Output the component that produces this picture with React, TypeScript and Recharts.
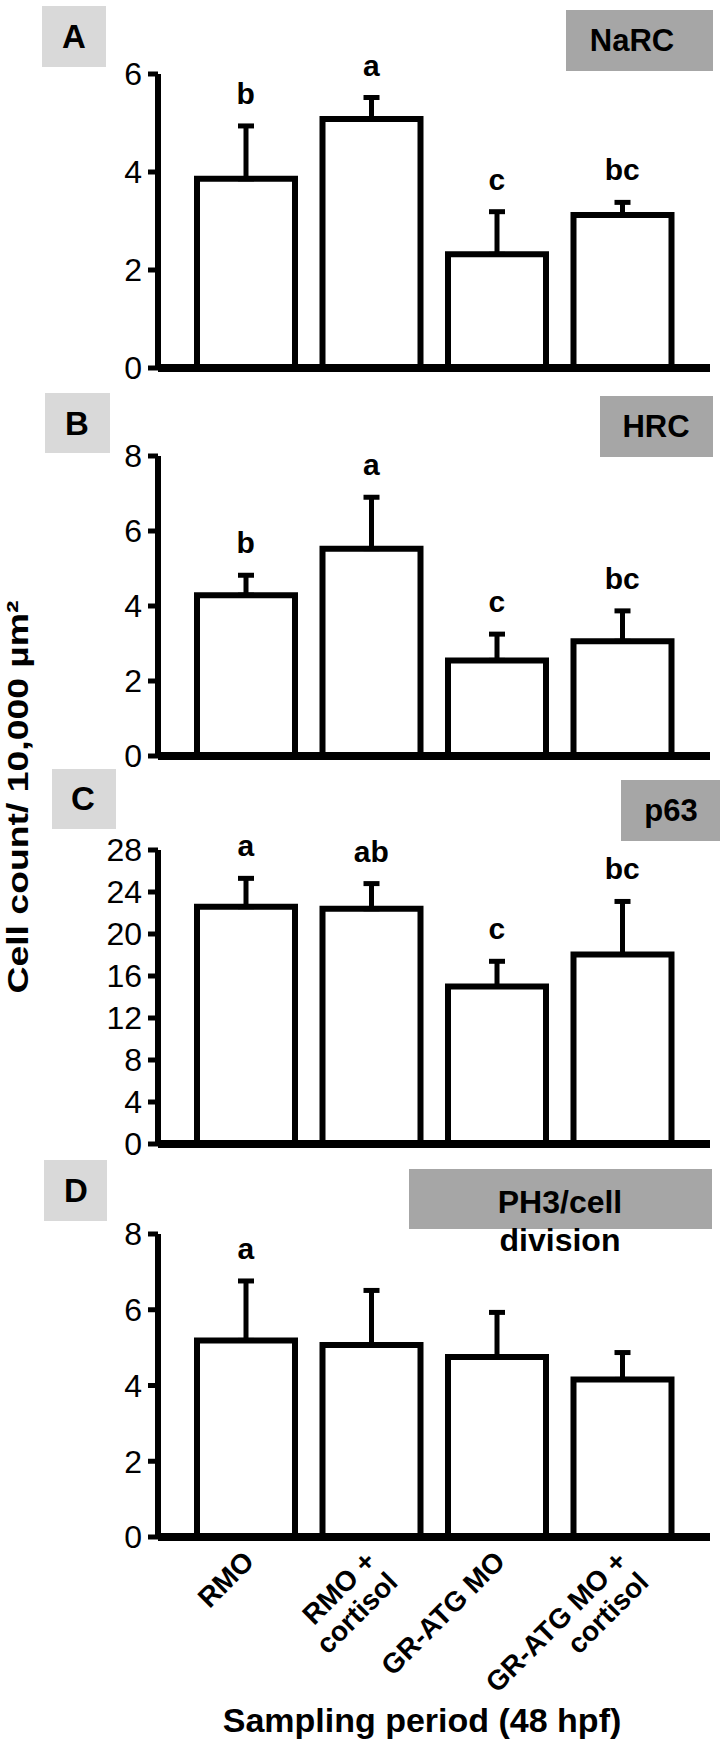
import React from 'react';
import { ComposedChart, Bar, Line, XAxis, YAxis, ErrorBar, LabelList } from 'recharts';

const FONT = '"Liberation Sans", Arial, Helvetica, sans-serif';

const groups = ['RMO', 'RMO + cortisol', 'GR-ATG MO', 'GR-ATG MO + cortisol'];
const groupLines = [['RMO'], ['RMO +', 'cortisol'], ['GR-ATG MO'], ['GR-ATG MO +', 'cortisol']];

const narcMean = [3.86, 5.08, 2.32, 3.12];
const narcSem = [1.08, 0.44, 0.87, 0.26];
const narcLetters = ['b', 'a', 'c', 'bc'];
const narcTicks = [0, 2, 4, 6];

const hrcMean = [4.29, 5.53, 2.55, 3.06];
const hrcSem = [0.53, 1.37, 0.7, 0.81];
const hrcLetters = ['b', 'a', 'c', 'bc'];
const hrcTicks = [0, 2, 4, 6, 8];

const p63Mean = [22.6, 22.4, 15.0, 18.05];
const p63Sem = [2.7, 2.4, 2.4, 5.05];
const p63Letters = ['a', 'ab', 'c', 'bc'];
const p63Ticks = [0, 4, 8, 12, 16, 20, 24, 28];

const ph3Mean = [5.19, 5.07, 4.75, 4.16];
const ph3Sem = [1.57, 1.44, 1.18, 0.71];
const ph3Letters = ['a', '', '', ''];
const ph3Ticks = [0, 2, 4, 6, 8];

function buildRows(mean: number[], sem: number[], letters: string[]) {
  return groups.map((g, i) => ({
    group: g,
    mean: mean[i],
    err: [0, sem[i]],
    top: mean[i] + sem[i],
    letter: letters[i],
  }));
}

const LetterLabel = (props: any) => {
  const { x, y, value } = props;
  if (!value) return null;
  return (
    <text x={x} y={y - 22} textAnchor="middle" fontSize={30} fontWeight="bold" fontFamily={FONT} fill="#000">
      {value}
    </text>
  );
};

const ANGLE = -45;

const XTick = (props: any) => {
  const { x, y, payload } = props;
  const idx = groups.indexOf(payload.value);
  const lines = groupLines[idx] || [payload.value];
  const common = { textAnchor: 'end' as const, fontSize: 28, fontWeight: 'bold' as const, fontFamily: FONT, fill: '#000' };
  if (lines.length === 1) {
    return (
      <text {...common} transform={`translate(${x + 10},${y + 26}) rotate(${ANGLE})`}>
        {lines[0]}
      </text>
    );
  }
  return (
    <g>
      <text {...common} transform={`translate(${x + 6},${y + 26}) rotate(${ANGLE})`}>
        {lines[0]}
      </text>
      <text {...common} transform={`translate(${x + 28},${y + 47}) rotate(${ANGLE})`}>
        {lines[1]}
      </text>
    </g>
  );
};

type PanelProps = {
  top: number;
  yTop: number;
  yBottom: number;
  max: number;
  ticks: number[];
  rows: any[];
  showX?: boolean;
};

const Panel = ({ top, yTop, yBottom, max, ticks, rows, showX }: PanelProps) => {
  const xh = showX ? 200 : 30;
  const height = yBottom - top + xh;
  return (
    <div style={{ position: 'absolute', left: 0, top }}>
      <ComposedChart
        width={726}
        height={height}
        data={rows}
        margin={{ top: yTop - top, right: 16, bottom: 0, left: 0 }}
      >
        <XAxis
          dataKey="group"
          type="category"
          padding={{ left: 25, right: 25 }}
          axisLine={{ stroke: '#000', strokeWidth: 8 }}
          tickLine={false}
          tickSize={0}
          tickMargin={0}
          height={xh}
          interval={0}
          tick={showX ? <XTick /> : false}
        />
        <YAxis
          width={158}
          domain={[0, max]}
          ticks={ticks}
          interval={0}
          axisLine={{ stroke: '#000', strokeWidth: 6 }}
          tickLine={{ stroke: '#000', strokeWidth: 5 }}
          tickSize={10}
          tickMargin={6}
          tick={{ fill: '#000', fontSize: 32, fontFamily: FONT }}
        />
        <Bar dataKey="mean" barSize={98} fill="#fff" stroke="#000" strokeWidth={6} isAnimationActive={false}>
          <ErrorBar dataKey="err" direction="y" width={8} strokeWidth={5} stroke="#000" />
        </Bar>
        <Line dataKey="top" stroke="none" dot={false} activeDot={false} isAnimationActive={false}>
          <LabelList dataKey="letter" content={<LetterLabel />} />
        </Line>
      </ComposedChart>
    </div>
  );
};

const Box = ({ x, y, w, h, color }: any) => (
  <div
    style={{
      position: 'absolute',
      left: x,
      top: y,
      width: w,
      height: h,
      background: color,
    }}
  />
);

const Txt = ({ cx, cy, size, children, bold = true }: any) => (
  <div
    style={{
      position: 'absolute',
      left: cx - 250,
      top: cy - size * 0.6,
      width: 500,
      textAlign: 'center',
      fontFamily: FONT,
      fontWeight: bold ? 'bold' : 'normal',
      fontSize: size,
      lineHeight: `${size * 1.2}px`,
      color: '#000',
      whiteSpace: 'nowrap',
    }}
  >
    {children}
  </div>
);

const LIGHT = '#d9d9d9';
const DARK = '#a6a6a6';

export default function App() {
  return (
    <div style={{ position: 'absolute', left: 0, top: 0, width: 726, height: 1741, background: '#fff', overflow: 'hidden' }}>
      {/* Panel boxes */}
      <Box x={42} y={6} w={64} h={61} color={LIGHT} />
      <Txt cx={74} cy={37} size={33}>A</Txt>
      <Box x={566} y={10} w={147} h={61} color={DARK} />
      <Txt cx={632} cy={41} size={31}>NaRC</Txt>

      <Box x={45} y={393} w={65} h={60} color={LIGHT} />
      <Txt cx={77} cy={424} size={33}>B</Txt>
      <Box x={600} y={396} w={113} h={61} color={DARK} />
      <Txt cx={656} cy={427} size={31}>HRC</Txt>

      <Box x={52} y={769} w={64} h={60} color={LIGHT} />
      <Txt cx={83} cy={799} size={33}>C</Txt>
      <Box x={621} y={780} w={99} h={61} color={DARK} />
      <Txt cx={671} cy={811} size={31}>p63</Txt>

      <Box x={44} y={1160} w={63} h={61} color={LIGHT} />
      <Txt cx={76} cy={1191} size={33}>D</Txt>
      <Box x={409} y={1169} w={303} h={60} color={DARK} />
      <Txt cx={560} cy={1202} size={32}>PH3/cell</Txt>
      <Txt cx={560} cy={1240} size={32}>division</Txt>

      <Panel top={24} yTop={74} yBottom={368} max={6} ticks={narcTicks} rows={buildRows(narcMean, narcSem, narcLetters)} />
      <Panel top={406} yTop={456} yBottom={756} max={8} ticks={hrcTicks} rows={buildRows(hrcMean, hrcSem, hrcLetters)} />
      <Panel top={800} yTop={850} yBottom={1144} max={28} ticks={p63Ticks} rows={buildRows(p63Mean, p63Sem, p63Letters)} />
      <Panel top={1184} yTop={1234} yBottom={1537} max={8} ticks={ph3Ticks} rows={buildRows(ph3Mean, ph3Sem, ph3Letters)} showX />

      {/* Y axis title */}
      <svg style={{ position: 'absolute', left: 0, top: 600, overflow: 'visible' }} width={40} height={400}>
        <text
          transform="translate(28,197) rotate(-90)"
          textAnchor="middle"
          fontFamily={FONT}
          fontWeight="bold"
          fontSize={30}
          textLength={393}
          lengthAdjust="spacingAndGlyphs"
          fill="#000"
        >
          Cell count/ 10,000 µm²
        </text>
      </svg>

      <Txt cx={422} cy={1720} size={34}>Sampling period (48 hpf)</Txt>
    </div>
  );
}
